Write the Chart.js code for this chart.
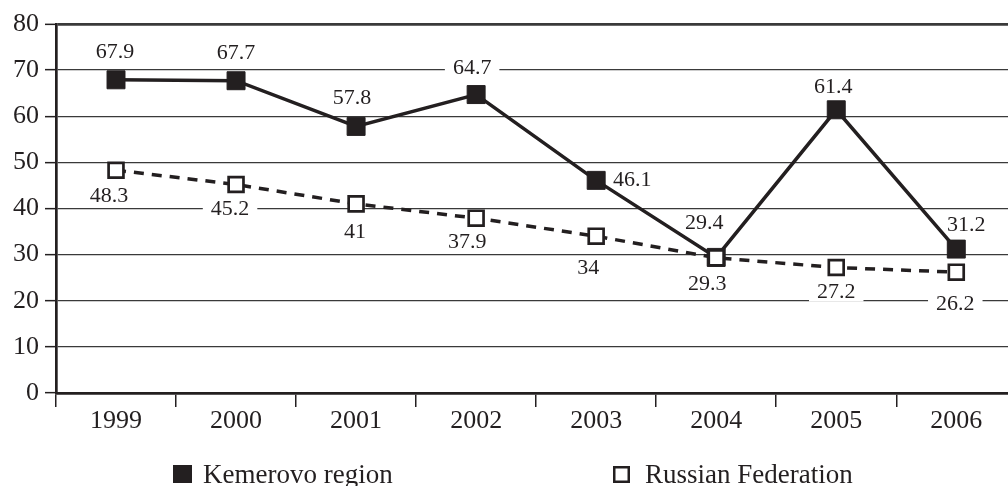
<!DOCTYPE html>
<html>
<head>
<meta charset="utf-8">
<script src="https://cdn.jsdelivr.net/npm/chart.js@4.4.1/dist/chart.umd.min.js"></script>
<style>
  html, body { margin:0; padding:0; background:#fff; overflow:hidden; }
  #wrap { width:1030px; height:486px; position:relative; }
</style>
</head>
<body>
<div id="wrap"><canvas id="chart"></canvas></div>
<script>
const YEARS = ['1999','2000','2001','2002','2003','2004','2005','2006'];
const KEMEROVO = [67.9, 67.7, 57.8, 64.7, 46.1, 29.4, 61.4, 31.2];
const RUSSIA = [48.3, 45.2, 41, 37.9, 34, 29.3, 27.2, 26.2];
const Y_TICKS = [0, 10, 20, 30, 40, 50, 60, 70, 80];
const SERIES_NAMES = ['Kemerovo region', 'Russian Federation'];

const INK = '#231f20';
const GRID = '#3a3a3a';
const SERIF = '"Liberation Serif", "DejaVu Serif", serif';

// where each value label sits relative to its point (px)
const KEM_LABEL_OFF = [[-1,-28],[0,-28],[-4,-28],[-4,-26],[36,0],[-12,-34],[-3,-23],[10,-24]];
const RUS_LABEL_OFF = [[-7,26],[-6,25],[-1,28],[-9,24],[-8,32],[-9,26],[0,25],[-1,32]];

// value labels with a white backing so they cut the grid lines
const valueLabels = {
  id: 'valueLabels',
  beforeDatasetsDraw(chart) {
    const ctx = chart.ctx;
    ctx.save();
    ctx.font = '22px ' + SERIF;
    ctx.textAlign = 'center';
    ctx.textBaseline = 'middle';
    chart.data.datasets.forEach((ds, i) => {
      const meta = chart.getDatasetMeta(i);
      meta.data.forEach((pt, j) => {
        const txt = String(ds.data[j]);
        const x = pt.x + ds.labelOffsets[j][0];
        const y = pt.y + ds.labelOffsets[j][1];
        const w = ctx.measureText(txt).width + 16;
        ctx.fillStyle = '#fff';
        ctx.fillRect(x - w/2, y - 9, w, 18);
        ctx.fillStyle = INK;
        ctx.fillText(txt, x, y);
      });
    });
    ctx.restore();
  }
};

// legend drawn by hand: the two entries sit far apart
const legendBoxes = {
  id: 'legendBoxes',
  afterDraw(chart) {
    const ctx = chart.ctx;
    const ds = chart.data.datasets;
    ctx.save();
    ctx.font = '27px ' + SERIF;
    ctx.textBaseline = 'alphabetic';
    ctx.textAlign = 'left';
    ctx.fillStyle = INK;
    ctx.fillRect(173, 465, 19, 18);
    ctx.fillText(ds[0].label, 203, 483);
    ctx.fillStyle = '#fff';
    ctx.fillRect(614, 467, 15, 15);
    ctx.strokeStyle = INK;
    ctx.lineWidth = 2.5;
    ctx.strokeRect(614.25, 467.25, 14.5, 14.5);
    ctx.fillStyle = INK;
    ctx.fillText(ds[1].label, 645, 483);
    ctx.restore();
  }
};

const chart = new Chart(document.getElementById('chart'), {
  type: 'line',
  data: {
    labels: YEARS,
    datasets: [
      {
        label: SERIES_NAMES[0], data: KEMEROVO, order: 1,
        borderColor: INK, borderWidth: 3.5, tension: 0,
        pointStyle: 'rect', pointRadius: 12.7, pointHoverRadius: 12.7,
        pointBackgroundColor: INK, pointBorderColor: INK, pointBorderWidth: 1,
        labelOffsets: KEM_LABEL_OFF,
      },
      {
        label: SERIES_NAMES[1], data: RUSSIA, order: 0,
        borderColor: INK, borderWidth: 3.5, borderDash: [10, 8], tension: 0,
        pointStyle: 'rect', pointRadius: 10.5, pointHoverRadius: 10.5,
        pointBackgroundColor: '#fff', pointBorderColor: INK, pointBorderWidth: 2.7,
        labelOffsets: RUS_LABEL_OFF,
      },
    ],
  },
  options: {
    responsive: true, maintainAspectRatio: false,
    animation: false, events: [],
    layout: { padding: { left: 0, right: 4, top: 24, bottom: 40 } },
    plugins: { legend: { display: false }, tooltip: { enabled: false } },
    scales: {
      x: {
        offset: true,
        grid: { offset: true, drawOnChartArea: false, drawTicks: true, tickLength: 14, color: INK, lineWidth: 1.5 },
        border: { display: true, color: INK, width: 2.7 },
        ticks: { font: { family: SERIF, size: 26 }, color: INK, padding: -1, maxRotation: 0, autoSkip: false },
        afterFit(scale) { scale.height = 53; },
      },
      y: {
        min: 0, max: 80,
        afterBuildTicks(scale) { scale.ticks = Y_TICKS.map(v => ({ value: v })); },
        grid: {
          color: GRID,
          lineWidth: c => (c.tick && c.tick.value === 80) ? 2.7 : 1.3,
          tickLength: 11, tickWidth: 1.5, tickColor: INK,
        },
        border: { color: INK, width: 2.7 },
        ticks: { font: { family: SERIF, size: 26 }, color: INK, padding: 6 },
        afterFit(scale) { scale.width = 56; },
      },
    },
  },
  plugins: [valueLabels, legendBoxes],
});
</script>
</body>
</html>
